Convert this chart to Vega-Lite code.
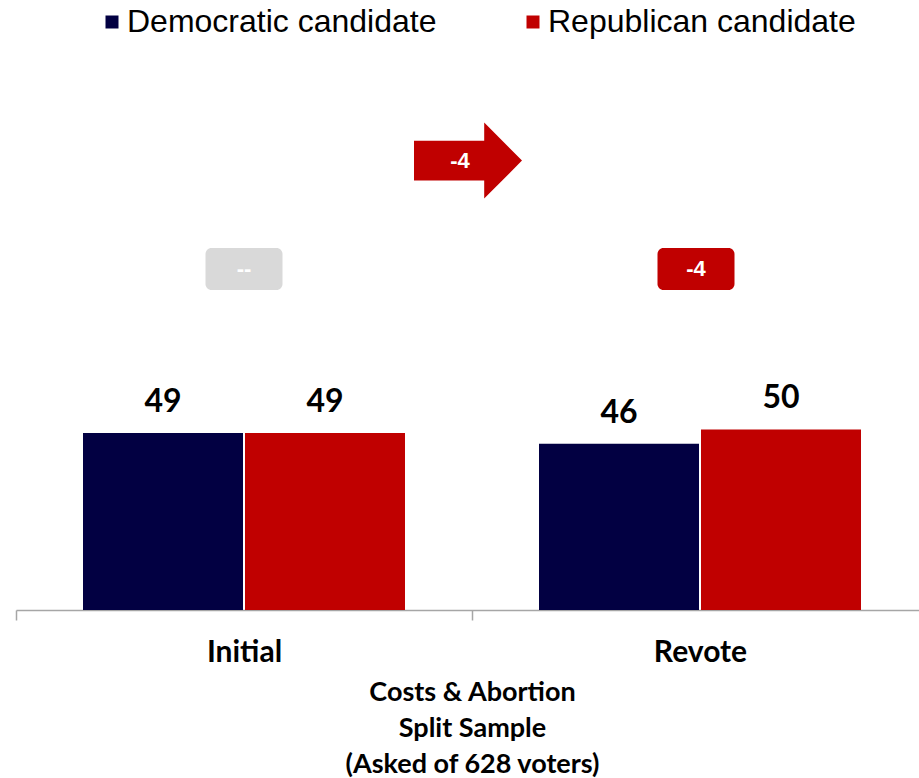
{
  "$schema": "https://vega.github.io/schema/vega-lite/v6.json",
  "autosize": {"type": "none"},
  "width": 912,
  "height": 578,
  "padding": {"left": 16, "top": 32, "right": 0, "bottom": 168},
  "background": "#ffffff",
  "config": {"view": {"stroke": null}},
  "datasets": {
    "bars": [
      {"round": "Initial", "party": "Democratic candidate", "value": 49},
      {"round": "Initial", "party": "Republican candidate", "value": 49},
      {"round": "Revote", "party": "Democratic candidate", "value": 46},
      {"round": "Revote", "party": "Republican candidate", "value": 50}
    ],
    "boxes": [
      {"round": "Initial", "label": "--", "lo": 88.6, "hi": 100.2, "mid": 94.4, "kind": "none"},
      {"round": "Revote", "label": "-4", "lo": 88.6, "hi": 100.2, "mid": 94.4, "kind": "neg"}
    ],
    "arrow": [
      {"round": "Revote", "label": "-4", "mid": 124.4}
    ]
  },
  "layer": [
    {
      "data": {"name": "bars"},
      "mark": {"type": "bar"},
      "encoding": {
        "x": {
          "field": "round", "type": "nominal", "sort": ["Initial", "Revote"],
          "scale": {"paddingInner": 0, "paddingOuter": 0},
          "axis": {
            "title": ["Costs & Abortion", "Split Sample", "(Asked of 628 voters)"],
            "titleFont": "Lato", "titleFontSize": 27, "titleFontWeight": "bold", "titleColor": "#000000",
            "titleLineHeight": 36, "titlePadding": 12,
            "labelAngle": 0, "labelFont": "Lato", "labelFontSize": 30, "labelFontWeight": "bold",
            "labelColor": "#000000", "labelPadding": 17,
            "tickBand": "extent", "tickSize": 10, "tickColor": "#a6a6a6", "tickWidth": 1.5,
            "domainColor": "#a6a6a6", "domainWidth": 1.5
          }
        },
        "xOffset": {
          "field": "party", "type": "nominal",
          "scale": {"paddingInner": 0.0123, "paddingOuter": 0.4136}
        },
        "y": {
          "field": "value", "type": "quantitative",
          "scale": {"domain": [0, 160], "nice": false, "zero": true},
          "axis": null
        },
        "color": {
          "field": "party", "type": "nominal",
          "scale": {"domain": ["Democratic candidate", "Republican candidate"], "range": ["#020042", "#c00000"]},
          "legend": {
            "orient": "none", "legendX": 80, "legendY": -26, "direction": "horizontal",
            "title": null, "symbolType": "square", "symbolSize": 169, "symbolStrokeWidth": 0,
            "labelFont": "Liberation Sans", "labelFontSize": 32, "labelColor": "#000000",
            "labelOffset": -1, "columnPadding": 80, "labelLimit": 400
          }
        }
      }
    },
    {
      "data": {"name": "bars"},
      "mark": {"type": "text", "baseline": "bottom", "dy": -14, "font": "Lato", "fontSize": 32, "fontWeight": "bold", "color": "#000000"},
      "encoding": {
        "x": {"field": "round", "type": "nominal", "sort": ["Initial", "Revote"]},
        "xOffset": {"field": "party", "type": "nominal"},
        "y": {"field": "value", "type": "quantitative"},
        "text": {"field": "value", "type": "quantitative"}
      }
    },
    {
      "data": {"name": "boxes"},
      "transform": [{"filter": "datum.kind === 'none'"}],
      "mark": {"type": "bar", "width": 77, "cornerRadius": 6, "color": "#d9d9d9"},
      "encoding": {
        "x": {"field": "round", "type": "nominal", "sort": ["Initial", "Revote"]},
        "y": {"field": "lo", "type": "quantitative"},
        "y2": {"field": "hi"}
      }
    },
    {
      "data": {"name": "boxes"},
      "transform": [{"filter": "datum.kind === 'neg'"}],
      "mark": {"type": "bar", "width": 77, "cornerRadius": 6, "color": "#c00000", "xOffset": -4},
      "encoding": {
        "x": {"field": "round", "type": "nominal", "sort": ["Initial", "Revote"]},
        "y": {"field": "lo", "type": "quantitative"},
        "y2": {"field": "hi"}
      }
    },
    {
      "data": {"name": "boxes"},
      "transform": [{"filter": "datum.kind === 'none'"}],
      "mark": {"type": "text", "baseline": "middle", "align": "center", "font": "Liberation Sans", "fontSize": 22, "fontWeight": "bold", "color": "#ffffff"},
      "encoding": {
        "x": {"field": "round", "type": "nominal", "sort": ["Initial", "Revote"]},
        "y": {"field": "mid", "type": "quantitative"},
        "text": {"field": "label", "type": "nominal"}
      }
    },
    {
      "data": {"name": "boxes"},
      "transform": [{"filter": "datum.kind === 'neg'"}],
      "mark": {"type": "text", "baseline": "middle", "align": "center", "font": "Liberation Sans", "fontSize": 22, "fontWeight": "bold", "color": "#ffffff", "dx": -4},
      "encoding": {
        "x": {"field": "round", "type": "nominal", "sort": ["Initial", "Revote"]},
        "y": {"field": "mid", "type": "quantitative"},
        "text": {"field": "label", "type": "nominal"}
      }
    },
    {
      "data": {"name": "arrow"},
      "mark": {
        "type": "point", "filled": true, "color": "#c00000", "opacity": 1, "strokeWidth": 0,
        "shape": "M-1,-0.37L0.3,-0.37L0.3,-0.704L1,0L0.3,0.704L0.3,0.37L-1,0.37Z",
        "size": 11664, "xOffset": -4
      },
      "encoding": {
        "x": {"field": "round", "type": "nominal", "sort": ["Initial", "Revote"], "bandPosition": 0},
        "y": {"field": "mid", "type": "quantitative"}
      }
    },
    {
      "data": {"name": "arrow"},
      "mark": {"type": "text", "baseline": "middle", "align": "center", "font": "Liberation Sans", "fontSize": 22, "fontWeight": "bold", "color": "#ffffff", "dx": -12},
      "encoding": {
        "x": {"field": "round", "type": "nominal", "sort": ["Initial", "Revote"], "bandPosition": 0},
        "y": {"field": "mid", "type": "quantitative"},
        "text": {"field": "label", "type": "nominal"}
      }
    }
  ]
}
